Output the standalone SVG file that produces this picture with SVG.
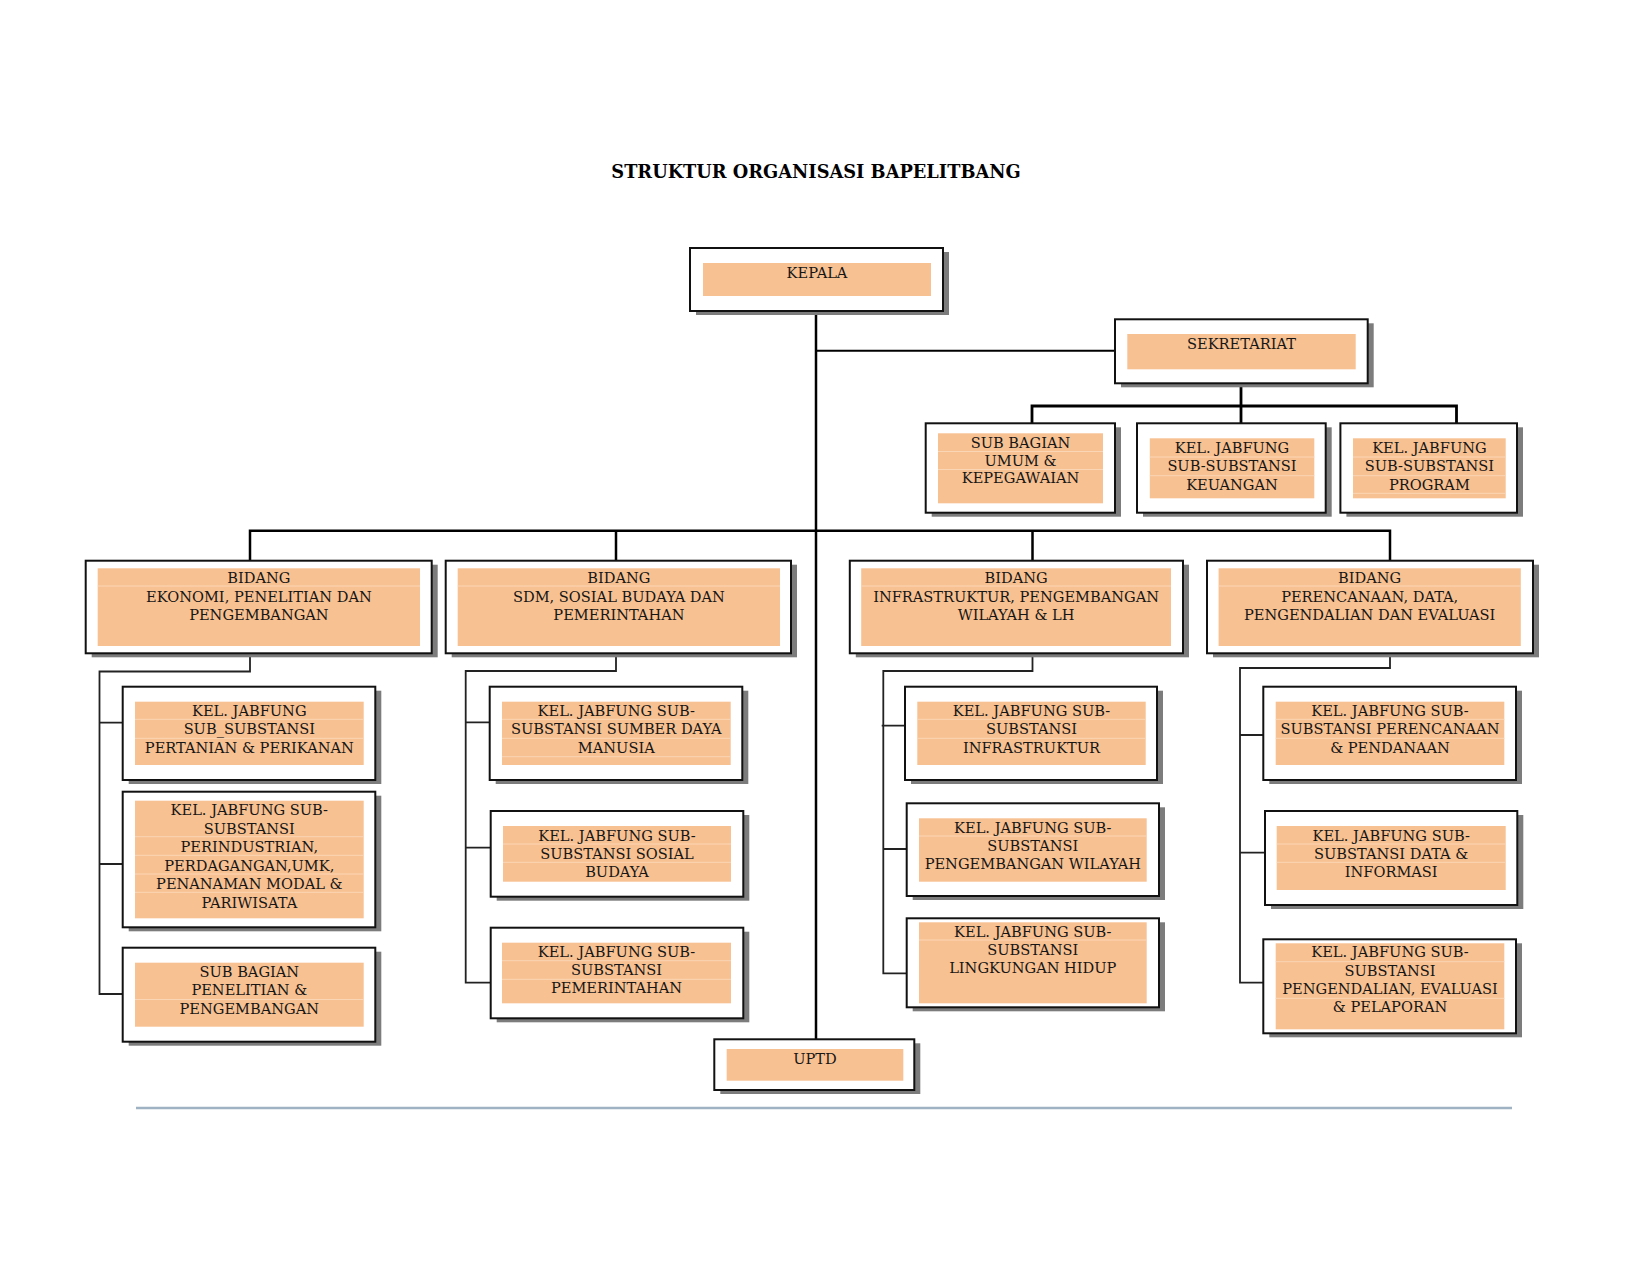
<svg xmlns="http://www.w3.org/2000/svg" width="1650" height="1275" viewBox="0 0 1650 1275">
<style>
  text { font-family: "DejaVu Serif", "Liberation Serif", serif; font-size: 14.6px; fill: #161616; text-anchor: middle; }
  .title { font-size: 17.8px; font-weight: bold; fill: #000; }
  .shd { fill: #7c7c7c; }
  .box { fill: #ffffff; stroke: #111; stroke-width: 2; }
  .fill { fill: #f8c192; }
  .sep { stroke: #fbd6b6; stroke-width: 1; }
  .main { fill: none; stroke: #000; stroke-width: 2.5; }
  .thin { fill: none; stroke: #222; stroke-width: 1.8; }
</style>
<rect width="1650" height="1275" fill="#fff"/>
<text class="title" x="816" y="178">STRUKTUR ORGANISASI BAPELITBANG</text>

<g id="connectors">
  <path class="main" d="M816 311 V1039"/>
  <path class="main" d="M816 350.7 H1115" style="stroke-width:2"/>
  <path class="main" d="M1241 383 V406 M1032 424 V406 H1456.5 V424 M1241 406 V424" style="stroke-width:2.8"/>
  <path class="main" d="M250 560 V530.7 H1390 V560 M616 530.7 V560 M1032.5 530.7 V560"/>
  <path class="thin" d="M250 653 V671.5 H99.5 V994 H123 M99.5 722.7 H123 M99.5 864 H123"/>
  <path class="thin" d="M616 653 V671 H465.7 V982.7 H490.7 M465.7 722.3 H489.7 M465.7 847.7 H490.7"/>
  <path class="thin" d="M1032.5 653 V671 H883.3 V973.3 H906.7 M881.7 725.7 H905 M883.3 849 H906.7"/>
  <path class="thin" d="M1390 653 V668 H1240 V982.7 H1263.3 M1240 735 H1263.3 M1240 852.7 H1265"/>
</g>

<g id="kepala">
  <rect class="shd" x="696" y="252" width="253" height="63"/>
  <rect class="box" x="690" y="248" width="253" height="63"/>
  <rect class="fill" x="703" y="263" width="228" height="33"/>
  <text x="817" y="278">KEPALA</text>
</g>

<g id="sekretariat">
  <rect class="shd" x="1121" y="323.3" width="252.7" height="64"/>
  <rect class="box" x="1115" y="319.3" width="252.7" height="64"/>
  <rect class="fill" x="1127.3" y="334" width="228.4" height="35.3"/>
  <text x="1241.5" y="349">SEKRETARIAT</text>
</g>

<g id="sub-umum">
  <rect class="shd" x="931.7" y="427.3" width="189.3" height="89.4"/>
  <rect class="box" x="925.7" y="423.3" width="189.3" height="89.4"/>
  <rect class="fill" x="938" y="433.3" width="165" height="70"/>
  <path class="sep" d="M938 451.5 H1103 M938 469.5 H1103"/>
  <text x="1020.5" y="447.7">SUB BAGIAN</text>
  <text x="1020.5" y="466">UMUM &amp;</text>
  <text x="1020.5" y="483.3">KEPEGAWAIAN</text>
</g>

<g id="sub-keuangan">
  <rect class="shd" x="1143" y="427.3" width="188.7" height="89.4"/>
  <rect class="box" x="1137" y="423.3" width="188.7" height="89.4"/>
  <rect class="fill" x="1149.8" y="438.3" width="164.5" height="60"/>
  <path class="sep" d="M1149.8 457 H1314.3 M1149.8 475.7 H1314.3"/>
  <text x="1232" y="452.7">KEL. JABFUNG</text>
  <text x="1232" y="471.3">SUB-SUBSTANSI</text>
  <text x="1232" y="490">KEUANGAN</text>
</g>

<g id="sub-program">
  <rect class="shd" x="1346.4" y="427.3" width="176.6" height="89.4"/>
  <rect class="box" x="1340.4" y="423.3" width="176.6" height="89.4"/>
  <rect class="fill" x="1353" y="438.3" width="152.7" height="60"/>
  <path class="sep" d="M1353 457 H1505.7 M1353 475.7 H1505.7 M1353 493.3 H1505.7"/>
  <text x="1429.4" y="452.7">KEL. JABFUNG</text>
  <text x="1429.4" y="471.3">SUB-SUBSTANSI</text>
  <text x="1429.4" y="490">PROGRAM</text>
</g>

<g id="bidang-ekonomi">
  <rect class="shd" x="91.7" y="564.7" width="346" height="92.6"/>
  <rect class="box" x="85.7" y="560.7" width="346" height="92.6"/>
  <rect class="fill" x="97.7" y="568.3" width="322.3" height="77.7"/>
  <path class="sep" d="M97.7 586 H420"/>
  <text x="258.9" y="583.3">BIDANG</text>
  <text x="258.9" y="601.7">EKONOMI, PENELITIAN DAN</text>
  <text x="258.9" y="620">PENGEMBANGAN</text>
</g>

<g id="bidang-sdm">
  <rect class="shd" x="451.7" y="564.7" width="345.3" height="92.6"/>
  <rect class="box" x="445.7" y="560.7" width="345.3" height="92.6"/>
  <rect class="fill" x="457.7" y="568.3" width="322.3" height="77.7"/>
  <path class="sep" d="M457.7 586 H780"/>
  <text x="618.9" y="583.3">BIDANG</text>
  <text x="618.9" y="601.7">SDM, SOSIAL BUDAYA DAN</text>
  <text x="618.9" y="620">PEMERINTAHAN</text>
</g>

<g id="bidang-infrastruktur">
  <rect class="shd" x="855.8" y="564.7" width="333.2" height="92.6"/>
  <rect class="box" x="849.8" y="560.7" width="333.2" height="92.6"/>
  <rect class="fill" x="861.2" y="568.3" width="309.8" height="77.7"/>
  <path class="sep" d="M861.2 586 H1171"/>
  <text x="1016.1" y="583.3">BIDANG</text>
  <text x="1016.1" y="601.7">INFRASTRUKTUR, PENGEMBANGAN</text>
  <text x="1016.1" y="620">WILAYAH &amp; LH</text>
</g>

<g id="bidang-perencanaan">
  <rect class="shd" x="1213" y="564.7" width="326" height="92.6"/>
  <rect class="box" x="1207" y="560.7" width="326" height="92.6"/>
  <rect class="fill" x="1218.6" y="568.3" width="302.2" height="77.7"/>
  <path class="sep" d="M1218.6 586 H1520.8"/>
  <text x="1369.7" y="583.3">BIDANG</text>
  <text x="1369.7" y="601.7">PERENCANAAN, DATA,</text>
  <text x="1369.7" y="620">PENGENDALIAN DAN EVALUASI</text>
</g>

<g id="kel-pertanian">
  <rect class="shd" x="128.7" y="690.7" width="252.6" height="93.3"/>
  <rect class="box" x="122.7" y="686.7" width="252.6" height="93.3"/>
  <rect class="fill" x="135" y="701.7" width="228.7" height="63.3"/>
  <path class="sep" d="M135 719.3 H363.7 M135 738.3 H363.7"/>
  <text x="249.3" y="715.7">KEL. JABFUNG</text>
  <text x="249.3" y="734.2">SUB_SUBSTANSI</text>
  <text x="249.3" y="752.7">PERTANIAN &amp; PERIKANAN</text>
</g>

<g id="kel-perindustrian">
  <rect class="shd" x="128.7" y="795.7" width="252.6" height="135.6"/>
  <rect class="box" x="122.7" y="791.7" width="252.6" height="135.6"/>
  <rect class="fill" x="135" y="800.7" width="228.7" height="117.6"/>
  <path class="sep" d="M135 836.7 H363.7 M135 855.3 H363.7 M135 874 H363.7 M135 892.3 H363.7"/>
  <text x="249.3" y="815">KEL. JABFUNG SUB-</text>
  <text x="249.3" y="833.5">SUBSTANSI</text>
  <text x="249.3" y="852">PERINDUSTRIAN,</text>
  <text x="249.3" y="870.5">PERDAGANGAN,UMK,</text>
  <text x="249.3" y="889">PENANAMAN MODAL &amp;</text>
  <text x="249.3" y="907.5">PARIWISATA</text>
</g>

<g id="sub-penelitian">
  <rect class="shd" x="128.7" y="951.7" width="252.6" height="94"/>
  <rect class="box" x="122.7" y="947.7" width="252.6" height="94"/>
  <rect class="fill" x="135" y="962.7" width="228.7" height="64"/>
  <path class="sep" d="M135 999.5 H363.7"/>
  <text x="249.3" y="976.7">SUB BAGIAN</text>
  <text x="249.3" y="995.3">PENELITIAN &amp;</text>
  <text x="249.3" y="1013.7">PENGEMBANGAN</text>
</g>

<g id="kel-sdm">
  <rect class="shd" x="495.7" y="690.7" width="252.6" height="93.3"/>
  <rect class="box" x="489.7" y="686.7" width="252.6" height="93.3"/>
  <rect class="fill" x="502" y="701.7" width="228.7" height="63.3"/>
  <path class="sep" d="M502 719.3 H730.7 M502 738.3 H730.7 M502 756.7 H730.7"/>
  <text x="616.3" y="715.7">KEL. JABFUNG SUB-</text>
  <text x="616.3" y="734.2">SUBSTANSI SUMBER DAYA</text>
  <text x="616.3" y="752.7">MANUSIA</text>
</g>

<g id="kel-sosbud">
  <rect class="shd" x="496.7" y="815" width="252.6" height="85.7"/>
  <rect class="box" x="490.7" y="811" width="252.6" height="85.7"/>
  <rect class="fill" x="503" y="826" width="228" height="55.7"/>
  <path class="sep" d="M503 844 H731 M503 862.3 H731"/>
  <text x="617" y="840.7">KEL. JABFUNG SUB-</text>
  <text x="617" y="858.7">SUBSTANSI SOSIAL</text>
  <text x="617" y="876.7">BUDAYA</text>
</g>

<g id="kel-pemerintahan">
  <rect class="shd" x="496.7" y="931.7" width="252.6" height="90.6"/>
  <rect class="box" x="490.7" y="927.7" width="252.6" height="90.6"/>
  <rect class="fill" x="502" y="942.7" width="229" height="60.6"/>
  <path class="sep" d="M502 960.7 H731 M502 979.3 H731"/>
  <text x="616.5" y="956.7">KEL. JABFUNG SUB-</text>
  <text x="616.5" y="975">SUBSTANSI</text>
  <text x="616.5" y="993.3">PEMERINTAHAN</text>
</g>

<g id="kel-infrastruktur">
  <rect class="shd" x="911" y="690.7" width="252" height="93.3"/>
  <rect class="box" x="905" y="686.7" width="252" height="93.3"/>
  <rect class="fill" x="917.3" y="701.7" width="228.4" height="63.3"/>
  <path class="sep" d="M917.3 719.3 H1145.7 M917.3 738.3 H1145.7"/>
  <text x="1031.5" y="715.7">KEL. JABFUNG SUB-</text>
  <text x="1031.5" y="734.2">SUBSTANSI</text>
  <text x="1031.5" y="752.7">INFRASTRUKTUR</text>
</g>

<g id="kel-wilayah">
  <rect class="shd" x="912.7" y="807.3" width="252.3" height="92.7"/>
  <rect class="box" x="906.7" y="803.3" width="252.3" height="92.7"/>
  <rect class="fill" x="919" y="818.3" width="227.7" height="63.4"/>
  <path class="sep" d="M919 836 H1146.7"/>
  <text x="1032.8" y="832.7">KEL. JABFUNG SUB-</text>
  <text x="1032.8" y="851">SUBSTANSI</text>
  <text x="1032.8" y="869.3">PENGEMBANGAN WILAYAH</text>
</g>

<g id="kel-lingkungan">
  <rect class="shd" x="912.7" y="922.3" width="252.3" height="89"/>
  <rect class="box" x="906.7" y="918.3" width="252.3" height="89"/>
  <rect class="fill" x="919" y="922.3" width="227.7" height="81"/>
  <path class="sep" d="M919 940 H1146.7"/>
  <text x="1032.8" y="936.7">KEL. JABFUNG SUB-</text>
  <text x="1032.8" y="955">SUBSTANSI</text>
  <text x="1032.8" y="973.3">LINGKUNGAN HIDUP</text>
</g>

<g id="kel-perencanaan">
  <rect class="shd" x="1269.3" y="690.7" width="252.7" height="93.3"/>
  <rect class="box" x="1263.3" y="686.7" width="252.7" height="93.3"/>
  <rect class="fill" x="1275.7" y="701.7" width="228.6" height="63.3"/>
  <path class="sep" d="M1275.7 719.3 H1504.3 M1275.7 738.3 H1504.3"/>
  <text x="1390" y="715.7">KEL. JABFUNG SUB-</text>
  <text x="1390" y="734.2">SUBSTANSI PERENCANAAN</text>
  <text x="1390" y="752.7">&amp; PENDANAAN</text>
</g>

<g id="kel-data">
  <rect class="shd" x="1271" y="815" width="252.3" height="94"/>
  <rect class="box" x="1265" y="811" width="252.3" height="94"/>
  <rect class="fill" x="1276.7" y="826" width="229" height="64"/>
  <path class="sep" d="M1276.7 844 H1505.7 M1276.7 862.3 H1505.7"/>
  <text x="1391.2" y="840.7">KEL. JABFUNG SUB-</text>
  <text x="1391.2" y="858.7">SUBSTANSI DATA &amp;</text>
  <text x="1391.2" y="876.7">INFORMASI</text>
</g>

<g id="kel-pengendalian">
  <rect class="shd" x="1269.3" y="943.3" width="252.7" height="94"/>
  <rect class="box" x="1263.3" y="939.3" width="252.7" height="94"/>
  <rect class="fill" x="1275.7" y="943.3" width="228.6" height="86"/>
  <path class="sep" d="M1275.7 961.7 H1504.3 M1275.7 998.3 H1504.3"/>
  <text x="1390" y="957.3">KEL. JABFUNG SUB-</text>
  <text x="1390" y="975.7">SUBSTANSI</text>
  <text x="1390" y="994.3">PENGENDALIAN, EVALUASI</text>
  <text x="1390" y="1012.3">&amp; PELAPORAN</text>
</g>

<g id="uptd">
  <rect class="shd" x="720.3" y="1043.3" width="200" height="50.7"/>
  <rect class="box" x="714.3" y="1039.3" width="200" height="50.7"/>
  <rect class="fill" x="726.7" y="1049" width="176.6" height="31.7"/>
  <text x="815" y="1064.3">UPTD</text>
</g>

<line x1="136" y1="1108" x2="1512" y2="1108" stroke="#9fb2c4" stroke-width="2.5"/>
</svg>
